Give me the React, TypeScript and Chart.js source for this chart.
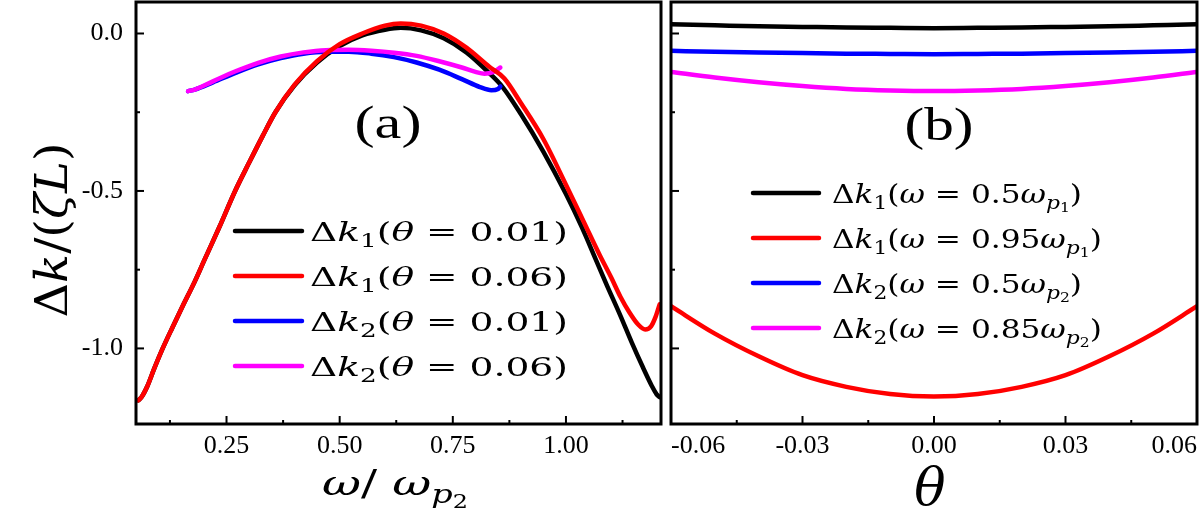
import { useEffect, useRef } from "react";
import { Chart, registerables } from "chart.js";

Chart.register(...registerables);

// ---- panel (a): Δk against ω/ω_p2 ----
const A_BLACK_X = [0.055, 0.062, 0.075, 0.09, 0.109, 0.13, 0.155, 0.18, 0.2, 0.235, 0.269, 0.3, 0.33, 0.358, 0.4, 0.45, 0.5, 0.55, 0.6, 0.635, 0.68, 0.73, 0.78, 0.83, 0.86, 0.9, 0.95, 1.0, 1.035, 1.066, 1.089, 1.12, 1.145, 1.17, 1.19, 1.2, 1.207];
const A_BLACK_Y = [-1.165, -1.155, -1.12, -1.065, -1.0, -0.935, -0.86, -0.787, -0.723, -0.612, -0.5, -0.41, -0.325, -0.25, -0.165, -0.092, -0.04, -0.006, 0.012, 0.018, 0.01, -0.015, -0.06, -0.125, -0.17, -0.255, -0.375, -0.51, -0.615, -0.718, -0.795, -0.895, -0.98, -1.06, -1.12, -1.145, -1.155];

const A_RED_X = [0.055, 0.062, 0.075, 0.09, 0.109, 0.13, 0.155, 0.18, 0.2, 0.235, 0.269, 0.3, 0.33, 0.358, 0.4, 0.45, 0.5, 0.55, 0.6, 0.635, 0.68, 0.73, 0.78, 0.83, 0.864, 0.9, 0.95, 1.0, 1.04, 1.075, 1.1, 1.12, 1.14, 1.16, 1.175, 1.188, 1.198, 1.207];
const A_RED_Y = [-1.165, -1.155, -1.12, -1.065, -1.0, -0.935, -0.86, -0.787, -0.723, -0.612, -0.5, -0.41, -0.325, -0.25, -0.163, -0.088, -0.034, 0.0, 0.025, 0.032, 0.025, 0.0, -0.045, -0.105, -0.143, -0.22, -0.335, -0.48, -0.6, -0.705, -0.775, -0.835, -0.885, -0.925, -0.94, -0.93, -0.9, -0.86];

const A_BLUE_X = [0.165, 0.18, 0.22, 0.27, 0.32, 0.37, 0.42, 0.47, 0.52, 0.57, 0.62, 0.67, 0.72, 0.77, 0.81, 0.835, 0.85, 0.855];
const A_BLUE_Y = [-0.183, -0.178, -0.155, -0.125, -0.098, -0.078, -0.064, -0.058, -0.058, -0.064, -0.075, -0.092, -0.115, -0.145, -0.17, -0.18, -0.176, -0.168];

const A_MAGENTA_X = [0.165, 0.18, 0.22, 0.27, 0.32, 0.37, 0.42, 0.47, 0.52, 0.57, 0.62, 0.67, 0.72, 0.77, 0.8, 0.82, 0.84, 0.855];
const A_MAGENTA_Y = [-0.183, -0.178, -0.152, -0.12, -0.093, -0.073, -0.06, -0.053, -0.052, -0.055, -0.061, -0.071, -0.088, -0.108, -0.122, -0.128, -0.122, -0.108];

const A_X_MAJOR = [0.25, 0.5, 0.75, 1.0];
const A_X_MINOR = [0.125, 0.375, 0.625, 0.875, 1.125];

// ---- panel (b): Δk against θ ----
const B_THETA = [-0.06, -0.05, -0.04, -0.03, -0.02, -0.01, 0, 0.01, 0.02, 0.03, 0.04, 0.05, 0.06];
const B_BLACK = [0.029, 0.026, 0.023, 0.021, 0.019, 0.018, 0.017, 0.018, 0.019, 0.021, 0.023, 0.026, 0.029];
const B_RED = [-0.866, -0.953, -1.025, -1.085, -1.122, -1.145, -1.153, -1.145, -1.122, -1.085, -1.025, -0.953, -0.866];
const B_BLUE = [-0.055, -0.058, -0.06, -0.062, -0.064, -0.065, -0.066, -0.065, -0.064, -0.062, -0.06, -0.058, -0.055];
const B_MAGENTA = [-0.122, -0.14, -0.155, -0.167, -0.176, -0.181, -0.183, -0.181, -0.176, -0.167, -0.155, -0.14, -0.122];

const B_X_MAJOR = [-0.06, -0.03, 0, 0.03, 0.06];
const B_X_MINOR = [-0.045, -0.015, 0.015, 0.045];

const Y_MAJOR = [0, -0.5, -1.0];
const Y_MINOR = [-0.25, -0.75];

const COLORS = ["#000000", "#ff0000", "#0000ff", "#ff00ff"];

type Seg = { t: string; it?: boolean; lvl?: number; f?: string };

const A_LEGEND: Seg[][] = [
  [{ t: "Δ" }, { t: "k", it: true }, { t: "1", lvl: 1 }, { t: "(" }, { t: "θ", it: true }, { t: " = " }, { t: "0.01)" }],
  [{ t: "Δ" }, { t: "k", it: true }, { t: "1", lvl: 1 }, { t: "(" }, { t: "θ", it: true }, { t: " = " }, { t: "0.06)" }],
  [{ t: "Δ" }, { t: "k", it: true }, { t: "2", lvl: 1 }, { t: "(" }, { t: "θ", it: true }, { t: " = " }, { t: "0.01)" }],
  [{ t: "Δ" }, { t: "k", it: true }, { t: "2", lvl: 1 }, { t: "(" }, { t: "θ", it: true }, { t: " = " }, { t: "0.06)" }],
];

const B_LEGEND: Seg[][] = [
  [{ t: "Δ" }, { t: "k", it: true }, { t: "1", lvl: 1 }, { t: "(" }, { t: "ω", it: true }, { t: " = " }, { t: "0.5" }, { t: "ω", it: true }, { t: "p", it: true, lvl: 1 }, { t: "1", lvl: 2 }, { t: ")" }],
  [{ t: "Δ" }, { t: "k", it: true }, { t: "1", lvl: 1 }, { t: "(" }, { t: "ω", it: true }, { t: " = " }, { t: "0.95" }, { t: "ω", it: true }, { t: "p", it: true, lvl: 1 }, { t: "1", lvl: 2 }, { t: ")" }],
  [{ t: "Δ" }, { t: "k", it: true }, { t: "2", lvl: 1 }, { t: "(" }, { t: "ω", it: true }, { t: " = " }, { t: "0.5" }, { t: "ω", it: true }, { t: "p", it: true, lvl: 1 }, { t: "2", lvl: 2 }, { t: ")" }],
  [{ t: "Δ" }, { t: "k", it: true }, { t: "2", lvl: 1 }, { t: "(" }, { t: "ω", it: true }, { t: " = " }, { t: "0.85" }, { t: "ω", it: true }, { t: "p", it: true, lvl: 1 }, { t: "2", lvl: 2 }, { t: ")" }],
];

const Y_TITLE: Seg[] = [{ t: "Δ" }, { t: "k", it: true }, { t: "/(" }, { t: "ζ", it: true }, { t: "L", it: true }, { t: ")" }];
const A_X_TITLE: Seg[] = [{ t: "ω", it: true }, { t: "/ " }, { t: "ω", it: true }, { t: "p", it: true, lvl: 1 }, { t: "2", lvl: 2 }];
const B_X_TITLE: Seg[] = [{ t: "θ", it: true }];

const MATH = "'DejaVu Serif'";
const TIMES = "'Liberation Serif'";
const TICK_FONT = { family: TIMES, size: 26 };

function segFont(s: Seg, size: number) {
  const k = s.lvl === 1 ? 0.7 : s.lvl === 2 ? 0.5 : 1;
  return `${s.it ? "italic " : ""}${(size * k).toFixed(1)}px ${s.f ?? MATH}`;
}

function segShift(s: Seg, size: number) {
  return s.lvl === 1 ? size * 0.22 : s.lvl === 2 ? size * 0.36 : 0;
}

function richWidth(ctx: CanvasRenderingContext2D, segs: Seg[], size: number) {
  let w = 0;
  for (const s of segs) {
    ctx.font = segFont(s, size);
    w += ctx.measureText(s.t).width;
  }
  return w;
}

// draws mixed-font text, x is the left edge unless centered
function drawRich(ctx: CanvasRenderingContext2D, segs: Seg[], x: number, y: number, size: number, sx: number, center = false) {
  ctx.save();
  ctx.translate(x, y);
  ctx.scale(sx, 1);
  ctx.fillStyle = "#000";
  ctx.textAlign = "left";
  ctx.textBaseline = "alphabetic";
  let cx = center ? -richWidth(ctx, segs, size) / 2 : 0;
  for (const s of segs) {
    ctx.font = segFont(s, size);
    ctx.fillText(s.t, cx, segShift(s, size));
    cx += ctx.measureText(s.t).width;
  }
  ctx.restore();
}

function curve(xs: number[], ys: number[], color: string, order: number) {
  return {
    data: xs.map((x, i) => ({ x, y: ys[i] })),
    borderColor: color,
    backgroundColor: color,
    borderWidth: 4.5,
    pointRadius: 0,
    cubicInterpolationMode: "monotone",
    borderCapStyle: "round",
    borderJoinStyle: "round",
    fill: false,
    order,
  };
}

// frame round the plot and inward ticks from the scales
function frameTicks(xMajor: number[], xMinor: number[]) {
  return {
    id: "frameTicks",
    afterDatasetsDraw(chart: any) {
      const { ctx, chartArea: a, scales } = chart;
      ctx.save();
      ctx.strokeStyle = "#000";
      ctx.lineWidth = 2;
      const seg = (x1: number, y1: number, x2: number, y2: number) => {
        ctx.beginPath();
        ctx.moveTo(x1, y1);
        ctx.lineTo(x2, y2);
        ctx.stroke();
      };
      for (const v of xMajor) { const p = scales.x.getPixelForValue(v); seg(p, a.bottom, p, a.bottom - 8); }
      for (const v of xMinor) { const p = scales.x.getPixelForValue(v); seg(p, a.bottom, p, a.bottom - 4); }
      for (const v of Y_MAJOR) { const p = scales.y.getPixelForValue(v); seg(a.left, p, a.left + 8, p); }
      for (const v of Y_MINOR) { const p = scales.y.getPixelForValue(v); seg(a.left, p, a.left + 4, p); }
      ctx.lineWidth = 3;
      ctx.strokeRect(a.left, a.top, a.right - a.left, a.bottom - a.top);
      ctx.restore();
    },
  };
}

function legendDraw(ctx: CanvasRenderingContext2D, rows: Seg[][], lineX: number, lineW: number, textX: number, top: number, gap: number, fitW: number) {
  const size = 26;
  const sx = fitW / richWidth(ctx, rows[0], size);
  rows.forEach((row, i) => {
    const y = top + i * gap;
    ctx.save();
    ctx.strokeStyle = COLORS[i];
    ctx.lineWidth = 4.5;
    ctx.lineCap = "round";
    ctx.beginPath();
    ctx.moveTo(lineX, y);
    ctx.lineTo(lineX + lineW, y);
    ctx.stroke();
    ctx.restore();
    drawRich(ctx, row, textX, y + 10, size, sx);
  });
}

const overlayA = {
  id: "overlayA",
  afterDraw(chart: any) {
    const ctx = chart.ctx as CanvasRenderingContext2D;
    legendDraw(ctx, A_LEGEND, 235, 67, 310, 231, 45, 258);
    const panel: Seg[] = [{ t: "(a)", f: TIMES }];
    drawRich(ctx, panel, 388, 138, 46, 67 / richWidth(ctx, panel, 46), true);
    drawRich(ctx, A_X_TITLE, 395, 495, 36, 146 / richWidth(ctx, A_X_TITLE, 36), true);
    ctx.save();
    ctx.translate(67, 230);
    ctx.rotate(-Math.PI / 2);
    drawRich(ctx, Y_TITLE, 0, 0, 44, 175 / richWidth(ctx, Y_TITLE, 44), true);
    ctx.restore();
  },
};

const overlayB = {
  id: "overlayB",
  afterDraw(chart: any) {
    const ctx = chart.ctx as CanvasRenderingContext2D;
    legendDraw(ctx, B_LEGEND, 87, 66, 166, 193, 45, 250);
    const panel: Seg[] = [{ t: "(b)", f: TIMES }];
    drawRich(ctx, panel, 273, 140, 46, 69 / richWidth(ctx, panel, 46), true);
    drawRich(ctx, B_X_TITLE, 264, 505, 52, 1, true);
  },
};

function yScale(show: boolean) {
  return {
    type: "linear",
    min: -1.24,
    max: 0.1,
    display: true,
    grid: { display: false, drawTicks: false },
    border: { display: false },
    afterBuildTicks: (s: any) => { s.ticks = Y_MAJOR.map((v) => ({ value: v })); },
    afterFit: (s: any) => {
      s.width = show ? 136 : 0;
      s.paddingTop = 0;
      s.paddingBottom = 0;
    },
    ticks: {
      display: show,
      autoSkip: false,
      font: TICK_FONT,
      color: "#000",
      padding: 13,
      callback: (v: any) => Number(v).toFixed(1),
    },
  };
}

function xFit(s: any) {
  s.height = 92;
  s.paddingLeft = 0;
  s.paddingRight = 0;
}

function configA(): any {
  return {
    type: "line",
    data: {
      datasets: [
        curve(A_BLACK_X, A_BLACK_Y, COLORS[0], 4),
        curve(A_RED_X, A_RED_Y, COLORS[1], 1),
        curve(A_BLUE_X, A_BLUE_Y, COLORS[2], 3),
        curve(A_MAGENTA_X, A_MAGENTA_Y, COLORS[3], 2),
      ],
    },
    options: {
      responsive: false,
      animation: false,
      events: [],
      layout: { padding: { left: 0, right: 5, top: 2, bottom: 0 } },
      plugins: { legend: { display: false }, tooltip: { enabled: false } },
      scales: {
        x: {
          type: "linear",
          min: 0.05,
          max: 1.21,
          grid: { display: false, drawTicks: false },
          border: { display: false },
          afterBuildTicks: (s: any) => { s.ticks = A_X_MAJOR.map((v) => ({ value: v })); },
          afterFit: xFit,
          ticks: { autoSkip: false, maxRotation: 0, font: TICK_FONT, color: "#000", padding: 7, callback: (v: any) => Number(v).toFixed(2) },
        },
        y: yScale(true),
      },
    },
    plugins: [frameTicks(A_X_MAJOR, A_X_MINOR), overlayA],
  };
}

function configB(): any {
  return {
    type: "line",
    data: {
      datasets: [
        curve(B_THETA, B_BLACK, COLORS[0], 1),
        curve(B_THETA, B_RED, COLORS[1], 1),
        curve(B_THETA, B_BLUE, COLORS[2], 1),
        curve(B_THETA, B_MAGENTA, COLORS[3], 1),
      ],
    },
    options: {
      responsive: false,
      animation: false,
      events: [],
      layout: { padding: { left: 5, right: 3, top: 2, bottom: 0 } },
      plugins: { legend: { display: false }, tooltip: { enabled: false } },
      scales: {
        x: {
          type: "linear",
          min: -0.06,
          max: 0.06,
          grid: { display: false, drawTicks: false },
          border: { display: false },
          afterBuildTicks: (s: any) => { s.ticks = B_X_MAJOR.map((v) => ({ value: v })); },
          afterFit: xFit,
          ticks: { autoSkip: false, maxRotation: 0, align: "inner", font: TICK_FONT, color: "#000", padding: 7, callback: (v: any) => Number(v).toFixed(2) },
        },
        y: yScale(false),
      },
    },
    plugins: [frameTicks(B_X_MAJOR, B_X_MINOR), overlayB],
  };
}

export default function App() {
  const refA = useRef<HTMLCanvasElement>(null);
  const refB = useRef<HTMLCanvasElement>(null);

  useEffect(() => {
    document.body.style.margin = "0";
    if (!refA.current || !refB.current) return;
    const a = new Chart(refA.current, configA());
    const b = new Chart(refB.current, configB());
    return () => {
      a.destroy();
      b.destroy();
    };
  }, []);

  return (
    <div style={{ position: "relative", width: 1200, height: 516, background: "#fff" }}>
      <canvas ref={refA} width={666} height={516} style={{ position: "absolute", left: 0, top: 0 }} />
      <canvas ref={refB} width={534} height={516} style={{ position: "absolute", left: 666, top: 0 }} />
    </div>
  );
}
